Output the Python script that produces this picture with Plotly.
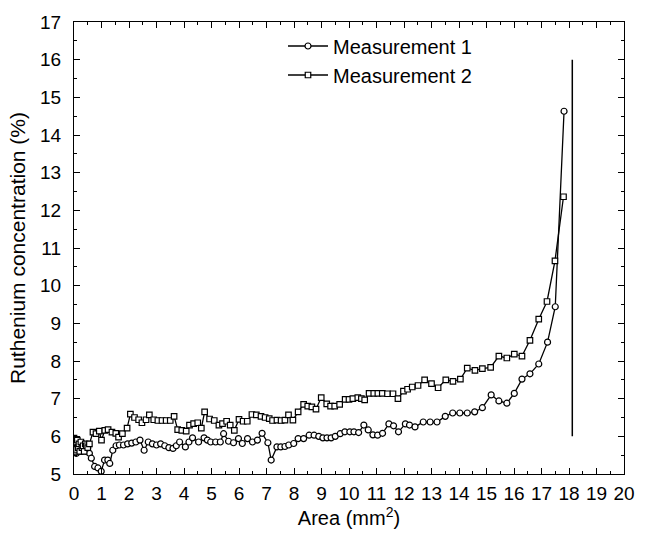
import plotly.graph_objects as go

# Measurement 1 (circles)
m1_x = [0.0, 0.03, 0.06, 0.09, 0.12, 0.15, 0.18, 0.21, 0.25, 0.29, 0.33, 0.37, 0.41, 0.45, 0.5, 0.56,
        0.63, 0.75, 0.87, 0.99, 1.11, 1.23, 1.3, 1.41, 1.53, 1.65, 1.8, 1.95, 2.1, 2.25, 2.4, 2.55,
        2.7, 2.85, 3.0, 3.15, 3.3, 3.45, 3.6, 3.72, 3.84, 4.05, 4.18, 4.31, 4.53, 4.73, 4.85, 4.97,
        5.15, 5.32, 5.44, 5.62, 5.8, 5.98, 6.12, 6.31, 6.49, 6.67, 6.84, 7.05, 7.17, 7.38, 7.52,
        7.67, 7.81, 7.99, 8.15, 8.35, 8.55, 8.73, 8.9, 9.05, 9.2, 9.35, 9.5, 9.68, 9.85, 10.03,
        10.18, 10.35, 10.54, 10.7, 10.87, 11.04, 11.22, 11.45, 11.62, 11.8, 12.05, 12.2, 12.4,
        12.7, 12.95, 13.2, 13.5, 13.77, 14.03, 14.3, 14.57, 14.85, 15.17, 15.45, 15.74, 16.01,
        16.29, 16.58, 16.9, 17.22, 17.5, 17.82]
m1_y = [5.9, 5.6, 5.75, 5.55, 5.8, 5.65, 5.85, 5.6, 5.75, 5.6, 5.8, 5.65, 5.7, 5.6, 5.7, 5.55,
        5.42, 5.2, 5.16, 5.07, 5.37, 5.37, 5.28, 5.63, 5.75, 5.77, 5.77, 5.8, 5.82, 5.85, 5.9, 5.63,
        5.85, 5.8, 5.77, 5.8, 5.75, 5.7, 5.68, 5.75, 5.85, 5.72, 5.85, 5.96, 5.85, 5.96, 5.9, 5.85,
        5.85, 5.85, 6.07, 5.87, 5.83, 5.94, 5.81, 5.94, 5.85, 5.9, 6.08, 5.83, 5.37, 5.72, 5.72,
        5.73, 5.77, 5.81, 5.94, 5.94, 6.03, 6.03, 6.0, 5.96, 5.96, 5.96, 6.0, 6.07, 6.12, 6.12,
        6.12, 6.1, 6.3, 6.17, 6.04, 6.03, 6.08, 6.33, 6.28, 6.12, 6.33, 6.3, 6.25,
        6.38, 6.38, 6.38, 6.53, 6.62, 6.62, 6.62, 6.65, 6.76, 7.1, 6.94, 6.88, 7.14,
        7.52, 7.66, 7.92, 8.5, 9.44, 14.63]

# Measurement 2 (squares)
m2_x = [0.0, 0.03, 0.06, 0.09, 0.12, 0.15, 0.18, 0.21, 0.25, 0.29, 0.33, 0.37, 0.41, 0.45, 0.5, 0.56,
        0.69, 0.8, 0.92, 1.0, 1.12, 1.24, 1.38, 1.52, 1.62, 1.76, 1.93, 2.05, 2.2, 2.35, 2.47, 2.62,
        2.74, 2.9, 3.05, 3.2, 3.35, 3.5, 3.64, 3.77, 3.92, 4.08, 4.2, 4.35, 4.5, 4.63, 4.75, 4.93,
        5.1, 5.27, 5.4, 5.55, 5.68, 5.83, 6.0, 6.15, 6.3, 6.47, 6.63, 6.8, 6.95, 7.1, 7.22, 7.38,
        7.53, 7.67, 7.8, 7.96, 8.15, 8.35, 8.5, 8.65, 8.8, 8.99, 9.19, 9.33, 9.48, 9.66, 9.86, 10.0,
        10.14, 10.32, 10.45, 10.57, 10.73, 10.9, 11.05, 11.21, 11.4, 11.6, 11.78, 11.98, 12.13,
        12.3, 12.51, 12.75, 13.0, 13.24, 13.52, 13.78, 14.05, 14.3, 14.58, 14.85, 15.15, 15.45,
        15.74, 16.01, 16.29, 16.58, 16.9, 17.2, 17.49, 17.8]
m2_y = [5.95, 5.6, 5.85, 5.65, 5.9, 5.7, 5.8, 5.6, 5.85, 5.7, 5.75, 5.6, 5.8, 5.75, 5.7, 5.8,
        6.11, 6.07, 6.14, 5.9, 6.16, 6.18, 6.11, 6.08, 5.98, 6.07, 6.22, 6.59, 6.5, 6.44, 6.36, 6.44,
        6.57, 6.44, 6.42, 6.42, 6.42, 6.42, 6.53, 6.18, 6.16, 6.14, 6.3, 6.34, 6.36, 6.22, 6.65, 6.46,
        6.42, 6.3, 6.34, 6.4, 6.3, 6.16, 6.45, 6.4, 6.4, 6.58, 6.57, 6.53, 6.5, 6.47, 6.42, 6.43,
        6.42, 6.43, 6.57, 6.43, 6.65, 6.85, 6.8, 6.78, 6.72, 7.03, 6.86, 6.8, 6.8, 6.85, 6.98, 6.98,
        7.0, 7.03, 7.0, 6.97, 7.14, 7.14, 7.14, 7.14, 7.13, 7.13, 7.0, 7.2, 7.25,
        7.31, 7.35, 7.5, 7.4, 7.29, 7.5, 7.46, 7.52, 7.81, 7.75, 7.8, 7.83, 8.13,
        8.08, 8.18, 8.13, 8.55, 9.11, 9.58, 10.66, 12.36]

# vertical reference line
vline_x = [18.12, 18.12]
vline_y = [6.0, 16.0]

x_ticks = list(range(0, 21))
y_ticks = list(range(5, 18))

FONT = "Liberation Sans, Arial, Helvetica, sans-serif"

fig = go.Figure()
fig.add_trace(go.Scatter(
    x=m1_x, y=m1_y, mode="lines+markers", name="Measurement 1",
    line=dict(color="black", width=1.3),
    marker=dict(symbol="circle", size=6, color="white", line=dict(color="black", width=1.2)),
))
fig.add_trace(go.Scatter(
    x=m2_x, y=m2_y, mode="lines+markers", name="Measurement 2",
    line=dict(color="black", width=1.3),
    marker=dict(symbol="square", size=5.5, color="white", line=dict(color="black", width=1.2)),
))
fig.add_trace(go.Scatter(
    x=vline_x, y=vline_y, mode="lines", showlegend=False,
    line=dict(color="black", width=1.5), hoverinfo="skip",
))

axis_common = dict(
    showline=True, linecolor="black", linewidth=1.3, mirror="allticks",
    ticks="inside", ticklen=6, tickwidth=1.2, tickcolor="black",
    showgrid=False, zeroline=False,
    tickfont=dict(family=FONT, size=19, color="black"),
    minor=dict(ticks="inside", ticklen=3, tickwidth=1, tickcolor="black", dtick=0.5, showgrid=False),
)

fig.update_layout(
    width=647, height=533,
    margin=dict(l=74, r=12, t=16, b=57),
    paper_bgcolor="white", plot_bgcolor="white",
    font=dict(family=FONT, color="black"),
    xaxis=dict(range=[0, 20], tickvals=x_ticks, ticktext=[str(v) for v in x_ticks],
               title=dict(text="Area (mm<sup>2</sup>)", font=dict(family=FONT, size=20), standoff=3),
               ticklabelstandoff=2, **axis_common),
    yaxis=dict(range=[5, 17], tickvals=y_ticks, ticktext=[str(v) for v in y_ticks],
               title=dict(text="Ruthenium concentration (%)", font=dict(family=FONT, size=21), standoff=8),
               ticklabelstandoff=8, **axis_common),
    legend=dict(x=0.38, y=0.99, xanchor="left", yanchor="top",
                bgcolor="rgba(0,0,0,0)", font=dict(family=FONT, size=20),
                itemwidth=40, tracegroupgap=0),
    showlegend=True,
)

fig.write_html("out.html")
